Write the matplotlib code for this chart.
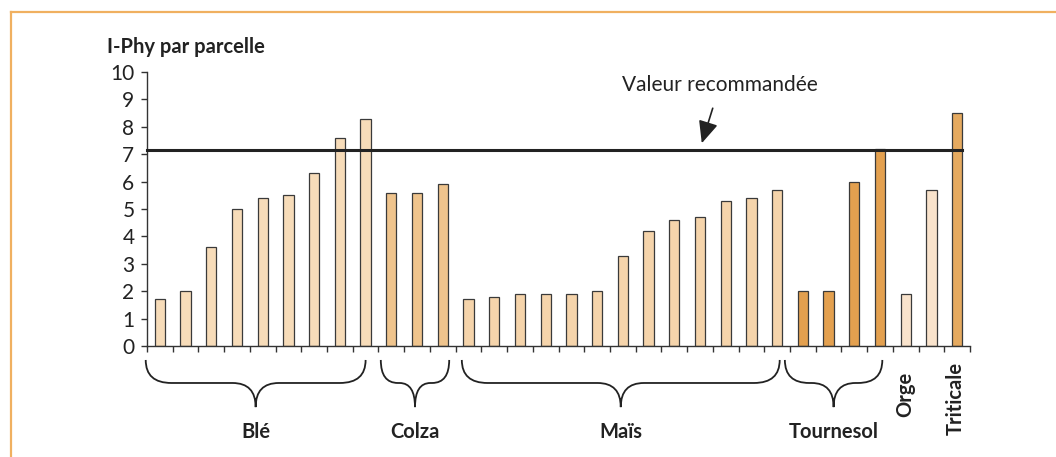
import matplotlib
matplotlib.use("Agg")
import matplotlib.pyplot as plt
from matplotlib.path import Path
from matplotlib.patches import PathPatch
import matplotlib.transforms as mtransforms
import numpy as np

plt.rcParams['font.family'] = ['Lato', 'DejaVu Sans']

# ---- data ----
groups = ["Blé", "Colza", "Maïs", "Tournesol", "Orge", "Triticale"]
ble = [1.7, 2.0, 3.6, 5.0, 5.4, 5.5, 6.3, 7.6, 8.3]
colza = [5.6, 5.6, 5.9]
mais = [1.7, 1.8, 1.9, 1.9, 1.9, 2.0, 3.3, 4.2, 4.6, 4.7, 5.3, 5.4, 5.7]
tournesol = [2.0, 2.0, 6.0, 7.2]
orge = [1.9, 5.7]
triticale = [8.5]
group_values = [ble, colza, mais, tournesol, orge, triticale]
group_colors = ["#f7dcb9", "#efc48d", "#f5d4ab", "#e3a04f", "#f9e3cc", "#e5aa60"]
valeur_recommandee = 7.15
yticks = list(range(0, 11))

fig = plt.figure(figsize=(10.56, 4.57), dpi=100)
ax = fig.add_axes([0.1392, 0.2429, 0.7794, 0.5996])

x0 = 0
for vals, col in zip(group_values, group_colors):
    xs = np.arange(x0, x0 + len(vals))
    ax.bar(xs, vals, width=0.4, color=col, edgecolor="#3a3a3a", linewidth=0.9, zorder=2)
    x0 += len(vals)
n = x0

ax.set_xlim(-0.5, n - 0.5)
ax.set_ylim(0, 10)
ax.set_yticks(yticks)
ax.set_yticklabels([str(t) for t in yticks])
ax.set_xticks(np.arange(-0.5, n, 1.0))
ax.set_xticklabels([])
for s in ["top", "right"]:
    ax.spines[s].set_visible(False)
for s in ["left", "bottom"]:
    ax.spines[s].set_color("#333333")
    ax.spines[s].set_linewidth(1.0)
ax.tick_params(axis="both", direction="out", length=4, width=1.0, color="#333333")
ax.tick_params(axis="y", labelsize=15, pad=5, labelcolor="#222222")

# recommended line
ax.plot([-0.5, n - 1 + 0.2], [valeur_recommandee, valeur_recommandee],
        color="#222222", linewidth=2.2, zorder=3, clip_on=False)
ax.annotate("Valeur recommandée", xy=(21.07, 7.40), xytext=(21.78, 9.53),
            ha="center", va="center", fontsize=15, color="#222222",
            arrowprops=dict(arrowstyle="-|>,head_length=0.9,head_width=0.4",
                            color="#222222", lw=1.2, shrinkA=8, shrinkB=0))

# braces
trans = mtransforms.blended_transform_factory(ax.transData, ax.transAxes)
ytop, ymid, ytip = -0.051, -0.135, -0.223

def brace(xl, xr):
    xm = (xl + xr) / 2
    r = min(1.0, (xr - xl) / 4)
    verts = [(xl, ytop), (xl, ymid), (xl + r, ymid),
             (xm - r * 0.9, ymid), (xm, ymid), (xm, ytip),
             (xm, ymid), (xm + r * 0.9, ymid),
             (xr - r, ymid), (xr, ymid), (xr, ytop)]
    codes = [Path.MOVETO, Path.CURVE3, Path.CURVE3,
             Path.LINETO, Path.CURVE3, Path.CURVE3,
             Path.CURVE3, Path.CURVE3,
             Path.LINETO, Path.CURVE3, Path.CURVE3]
    p = PathPatch(Path(verts, codes), transform=trans, fill=False,
                  edgecolor="#222222", linewidth=1.3, clip_on=False)
    ax.add_patch(p)
    return xm

brace_spans = [(-0.55, 8.0), (8.59, 11.25), (11.74, 24.1), (24.3, 28.09)]
for name, (xl, xr) in zip(groups[:4], brace_spans):
    xm = brace(xl, xr)
    ax.text(xm, -0.314, name, transform=trans, ha="center", va="center",
            fontsize=14.5, fontweight="bold", color="#222222")

ax.text(28.97, -0.095, groups[4], transform=trans, ha="center", va="top",
        rotation=90, fontsize=14.5, fontweight="bold", color="#222222")
ax.text(30.94, -0.058, groups[5], transform=trans, ha="center", va="top",
        rotation=90, fontsize=14.5, fontweight="bold", color="#222222")

# title
fig.text(0.101, 0.897, "I-Phy par parcelle", ha="left", va="center",
         fontsize=14.5, fontweight="bold", color="#222222")

# orange frame
fig.add_artist(plt.Line2D([0.0104, 1.0], [1 - 12 / 457, 1 - 12 / 457],
                          transform=fig.transFigure, color="#f0b060", linewidth=1.6))
fig.add_artist(plt.Line2D([0.0104, 0.0104], [0.0, 1 - 12 / 457],
                          transform=fig.transFigure, color="#f0b060", linewidth=1.6))

fig.savefig("out.png", dpi=100)
